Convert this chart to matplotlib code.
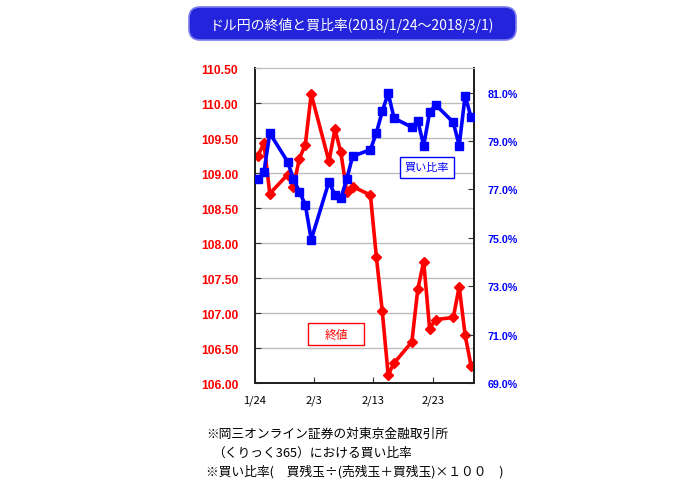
import matplotlib
matplotlib.use("Agg")
import matplotlib.pyplot as plt
import pandas as pd
import numpy as np
from matplotlib.patches import FancyBboxPatch, Rectangle

plt.rcParams['font.family'] = ['Noto Sans CJK JP', 'DejaVu Sans']

# ---- data ----
dates = ["2018-01-24", "2018-01-25", "2018-01-26", "2018-01-29", "2018-01-30", "2018-01-31",
         "2018-02-01", "2018-02-02", "2018-02-05", "2018-02-06", "2018-02-07", "2018-02-08",
         "2018-02-09", "2018-02-12", "2018-02-13", "2018-02-14", "2018-02-15", "2018-02-16",
         "2018-02-19", "2018-02-20", "2018-02-21", "2018-02-22", "2018-02-23", "2018-02-26",
         "2018-02-27", "2018-02-28", "2018-03-01"]
close = [109.25, 109.43, 108.71, 108.98, 108.81, 109.21, 109.41, 110.13, 109.17, 109.63,
         109.30, 108.74, 108.81, 108.69, 107.81, 107.03, 106.12, 106.29, 106.59, 107.34,
         107.74, 106.78, 106.91, 106.94, 107.38, 106.69, 106.25]
buy_ratio = [77.43, 77.71, 79.32, 78.15, 77.43, 76.91, 76.37, 74.93, 77.32, 76.77,
             76.63, 77.43, 78.37, 78.64, 79.33, 80.22, 80.97, 79.94, 79.57, 79.84,
             78.81, 80.18, 80.50, 79.77, 78.81, 80.87, 79.98]
x_tick_labels = ["1/24", "2/3", "2/13", "2/23"]
left_ticks = [106.00, 106.50, 107.00, 107.50, 108.00, 108.50, 109.00, 109.50, 110.00, 110.50]
right_ticks = [69.0, 71.0, 73.0, 75.0, 77.0, 79.0, 81.0]
title = "ドル円の終値と買比率(2018/1/24～2018/3/1)"
notes = ["※岡三オンライン証券の対東京金融取引所",
         "（くりっく365）における買い比率",
         "※買い比率(　買残玉÷(売残玉＋買残玉)×１００　)"]

start = pd.Timestamp(dates[0])
xpos = np.array([(pd.Timestamp(d) - start).days for d in dates]) + 0.5
tick_pos = [(pd.Timestamp(2018, 1, 24) + pd.Timedelta(days=10 * i) - start).days for i in range(4)]

W, H = 700, 485
fig = plt.figure(figsize=(7, 4.85), dpi=100)
L, R, T, B = 255, 474, 69.3, 384.3
ax = fig.add_axes([L / W, 1 - B / H, (R - L) / W, (B - T) / H])

red = "#ff0000"
blue = "#0000ff"

ax.plot(xpos, close, color=red, lw=2.6, marker="D", ms=5.5, mec=red, mfc=red, zorder=3)
ax.set_xlim(0, 37)
ax.set_ylim(106, 110.5)
ax.set_yticks(left_ticks)
ax.set_yticklabels([f"{v:.2f}" for v in left_ticks], color=red, fontweight="bold",
                   fontsize=8.7, family=["Liberation Sans", "DejaVu Sans"])
ax.set_xticks(tick_pos)
ax.set_xticklabels(x_tick_labels, fontsize=8)
ax.tick_params(axis="y", direction="in", length=4, pad=12, color="#333333")
ax.tick_params(axis="x", direction="in", length=4, pad=8, color="#333333")
for v in left_ticks[1:-1]:
    ax.axhline(v, color="#bdbdbd", lw=1.0, zorder=1)
for s in ["left", "bottom", "right"]:
    ax.spines[s].set_color("#222222")
    ax.spines[s].set_linewidth(1.4)
ax.spines["top"].set_color("#bdbdbd")

ax2 = ax.twinx()
ax2.plot(xpos, buy_ratio, color=blue, lw=2.6, marker="s", ms=6, mec=blue, mfc=blue, zorder=4)
ax2.set_ylim(69, 82)
ax2.set_yticks(right_ticks)
ax2.set_yticklabels([f"{v:.1f}%" for v in right_ticks], color=blue, fontweight="bold",
                    fontsize=7.7, family=["Liberation Sans", "DejaVu Sans"])
ax2.tick_params(axis="y", direction="in", length=4, pad=10, color="#333333")
for s in ["left", "bottom", "right"]:
    ax2.spines[s].set_color("#222222")
    ax2.spines[s].set_linewidth(1.4)
ax2.spines["top"].set_color("#bdbdbd")
ax2.set_xlim(0, 37)

# overlay in pixel coordinates
ov = fig.add_axes([0, 0, 1, 1], facecolor="none")
ov.set_xlim(0, W)
ov.set_ylim(H, 0)
ov.axis("off")

ov.add_patch(FancyBboxPatch((189, 8), 327, 33, boxstyle="round,pad=0,rounding_size=11",
                            facecolor="#2424dc", edgecolor="#7a7aee", lw=1.2))
ov.text(352, 25, title, color="white", fontsize=10, ha="center", va="center")

# legend boxes
ov.add_patch(Rectangle((400, 158), 54, 21, facecolor="white", edgecolor=blue, lw=1.0, zorder=5))
ov.text(427, 168.5, "買い比率", color=blue, fontsize=8, ha="center", va="center", zorder=6)
ov.add_patch(Rectangle((308, 324), 56, 22, facecolor="white", edgecolor=red, lw=1.0, zorder=5))
ov.text(336, 335, "終値", color=red, fontsize=8.5, ha="center", va="center", zorder=6)

ov.text(206, 434, notes[0], fontsize=9.2, ha="left", va="center")
ov.text(212, 453, notes[1], fontsize=9.2, ha="left", va="center")
ov.text(206, 472, notes[2], fontsize=9.2, ha="left", va="center")

fig.savefig("out.png", dpi=100)
